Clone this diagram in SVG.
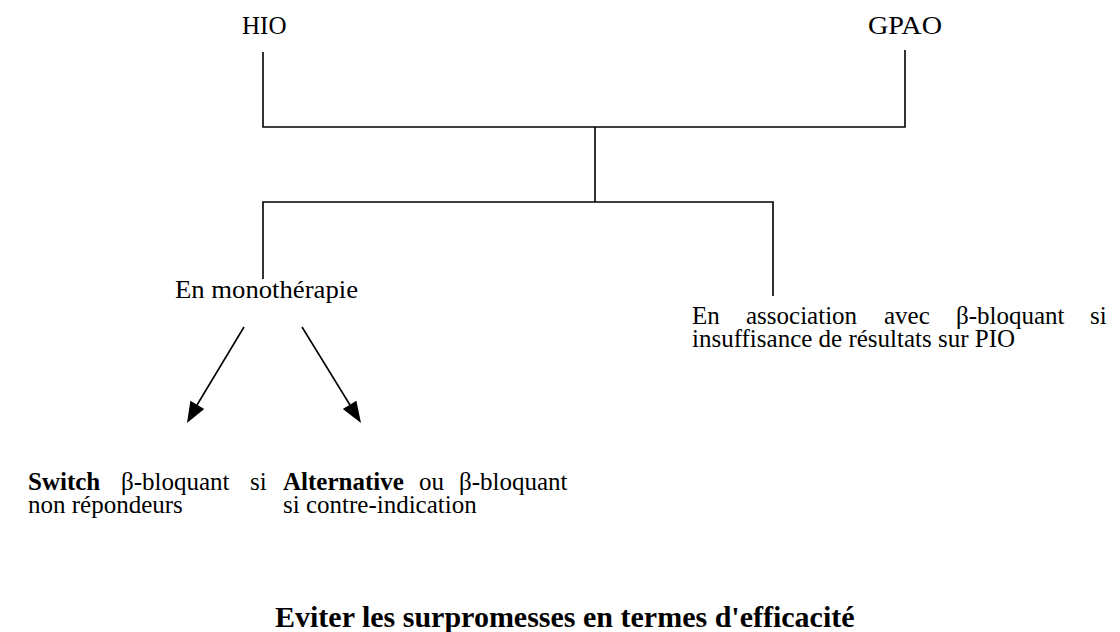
<svg xmlns="http://www.w3.org/2000/svg" width="1120" height="632" viewBox="0 0 1120 632">
  <style>
    .t { font-family: "Liberation Serif", "Times New Roman", serif; font-size: 25px; fill: #000; }
    .b { font-weight: bold; }
    .ttl { font-family: "Liberation Serif", "Times New Roman", serif; font-size: 30px; font-weight: bold; fill: #000; }
    .ln { stroke: #000; stroke-width: 1.6; fill: none; }
    .head { fill: #000; }
  </style>
  <rect width="1120" height="632" fill="#fff"/>

  <!-- tree connectors and the two arrows -->
  <g id="connectors">
    <path class="ln" d="M263,52 V127 H905 V50"/>
    <path class="ln" d="M595,127 V202"/>
    <path class="ln" d="M263,279 V202 H773 V296"/>
    <line class="ln" x1="244" y1="327" x2="197" y2="405"/>
    <polygon class="head" points="187,423 190.4,400.8 204.2,409"/>
    <line class="ln" x1="302" y1="327" x2="350" y2="405"/>
    <polygon class="head" points="361,423 342.8,409.1 356.4,400.7"/>
  </g>

  <g id="hio">
    <text class="t" x="242" y="34">HIO</text>
  </g>
  <g id="gpao">
    <text class="t" x="868" y="34" textLength="74" lengthAdjust="spacingAndGlyphs">GPAO</text>
  </g>
  <g id="monotherapie">
    <text class="t" x="175" y="298" textLength="183" lengthAdjust="spacingAndGlyphs">En monothérapie</text>
  </g>
  <g id="association">
    <text class="t" y="324"><tspan x="692">En</tspan><tspan x="746">association</tspan><tspan x="884">avec</tspan><tspan x="956">β-bloquant</tspan><tspan x="1090">si</tspan></text>
    <text class="t" x="692" y="347">insuffisance de résultats sur PIO</text>
  </g>
  <g id="switch">
    <text class="t" y="490"><tspan class="b" x="28">Switch</tspan><tspan x="121">β-bloquant</tspan><tspan x="250">si</tspan></text>
    <text class="t" x="28" y="513">non répondeurs</text>
  </g>
  <g id="alternative">
    <text class="t" y="490"><tspan class="b" x="283">Alternative</tspan><tspan x="419">ou</tspan><tspan x="459">β-bloquant</tspan></text>
    <text class="t" x="283" y="513">si contre-indication</text>
  </g>
  <g id="title">
    <text class="ttl" x="275" y="627">Eviter les surpromesses en termes d'efficacité</text>
  </g>
</svg>
